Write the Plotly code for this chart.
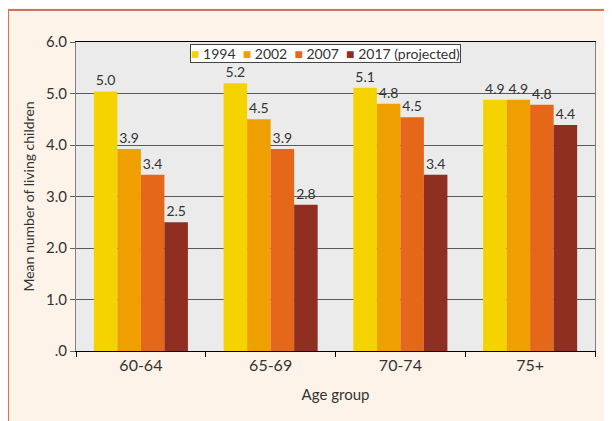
import plotly.graph_objects as go

categories = ["60-64", "65-69", "70-74", "75+"]
series_names = ["1994", "2002", "2007", "2017 (projected)"]
v1994 = [5.04, 5.20, 5.11, 4.88]
v2002 = [3.92, 4.50, 4.80, 4.88]
v2007 = [3.42, 3.92, 4.54, 4.78]
v2017 = [2.50, 2.84, 3.42, 4.39]
colors = ["#F5D300", "#EFA000", "#E5681A", "#8F2F22"]
y_tickvals = [0, 1, 2, 3, 4, 5, 6]
y_ticktext = [".0", "1.0", "2.0", "3.0", "4.0", "5.0", "6.0"]

W, H = 612, 421
ML, MR, MT, MB = 68, 25, 34, 78
PW, PH = W - ML - MR, H - MT - MB

def px_x(p):
    return (p - ML) / PW

def px_y(p):
    return (H - MB - p) / PH

FONT = "Lato"
TXT = "#333333"
BORDER = "#D4735C"

fig = go.Figure()
for name, vals, col in zip(series_names, [v1994, v2002, v2007, v2017], colors):
    fig.add_trace(go.Bar(
        x=categories, y=vals, name=name, marker=dict(color=col, line=dict(width=0)),
        texttemplate="%{y:.1f}", textposition="outside",
        textfont=dict(family=FONT, size=14, color=TXT), cliponaxis=False,
    ))

shapes = [
    dict(type="line", xref="paper", yref="paper", x0=px_x(0), x1=px_x(W), y0=px_y(2), y1=px_y(2),
         line=dict(color=BORDER, width=2), layer="below"),
    dict(type="line", xref="paper", yref="paper", x0=px_x(0), x1=px_x(0), y0=px_y(1), y1=px_y(H),
         line=dict(color=BORDER, width=2), layer="below"),
]

legend_text = "  ".join(
    f"<span style='color:{c}'>■</span> {n}" for n, c in zip(series_names, colors)
)

fig.update_layout(
    width=W, height=H,
    margin=dict(l=ML, r=MR, t=MT, b=MB, pad=0),
    paper_bgcolor="#FEF3E8", plot_bgcolor="#EBEBEB",
    font=dict(family=FONT, size=14, color=TXT),
    barmode="group", bargap=0.275, bargroupgap=0,
    shapes=shapes,
    showlegend=False,
    annotations=[dict(
        text=legend_text, xref="paper", yref="paper", x=0.48, y=0.993,
        xanchor="center", yanchor="top", showarrow=False,
        font=dict(family=FONT, size=14, color=TXT),
        bgcolor="white", bordercolor="#444444", borderwidth=1, borderpad=0,
    )],
    xaxis=dict(
        type="category", showline=True, linecolor="black", linewidth=1, mirror=True,
        ticks="outside", tickson="boundaries", ticklen=5, tickcolor="black",
        tickfont=dict(family=FONT, size=16, color=TXT),
        title=dict(text="Age group", font=dict(family=FONT, size=15, color=TXT), standoff=16),
        showgrid=False,
    ),
    yaxis=dict(
        range=[0, 6], tickvals=y_tickvals, ticktext=y_ticktext,
        showline=True, linecolor="#808080", linewidth=1, mirror=True,
        ticks="outside", ticklen=5, tickcolor="#606060",
        tickfont=dict(family=FONT, size=15, color=TXT),
        showgrid=True, gridcolor="#5a5a5a", gridwidth=1, zeroline=False,
        title=dict(text="Mean number of living children", font=dict(family=FONT, size=14, color=TXT), standoff=8),
    ),
)

fig.write_html("out.html")
